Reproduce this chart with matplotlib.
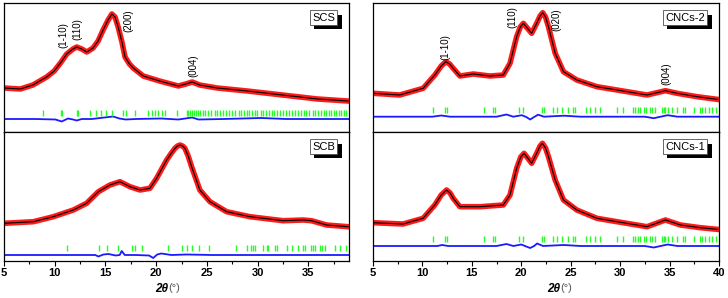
import numpy as np
import matplotlib.pyplot as plt
import matplotlib.patheffects as pe
from matplotlib.ticker import MultipleLocator

plt.rcParams['font.family'] = ['Liberation Sans', 'DejaVu Sans']

# --- SCS (upper left, its own 2theta scale) ---
scs_x = [7.5, 8.8, 9.8, 10.9, 11.5, 12.0, 12.5, 13.0, 13.3, 13.7, 14.1, 14.6, 15.0, 15.4,
         15.8, 16.1, 16.35, 16.6, 16.9, 17.15, 17.5, 17.8, 18.6, 19.9, 21.4, 22.0, 22.5,
         23.1, 24.5, 26.9, 29.7, 32.5, 34.9]
scs_y = [44, 43, 47, 55, 61, 69, 78, 83, 85, 83, 80, 84, 91, 102,
         112, 118, 115, 105, 90, 75, 68, 64, 56, 51, 46, 48, 50,
         47, 44, 41, 37, 33, 31]
scs_dx = [7.5, 10.0, 11.6, 12.1, 12.6, 13.0, 13.3, 13.7, 14.5, 15.5, 16.2, 16.7, 17.2,
          18.0, 20.0, 21.4, 22.5, 23.0, 25.0, 28.0, 30.0, 35.0]
scs_dy = [13, 13, 12.5, 10.5, 13.5, 12.5, 11.5, 13, 13, 14.5, 15.5, 13.5, 12.5,
          13, 13.5, 12.5, 14.5, 12.5, 13, 14, 13, 13]
scs_refl = [10.58, 12.02, 12.12, 13.29, 13.42, 14.35, 14.81, 15.21, 15.63, 16.13, 16.96,
            17.22, 17.94, 19.0, 19.3, 19.55, 19.8, 20.1, 20.35, 21.26,
            22.06, 22.2, 22.35, 22.5, 22.62, 22.8, 22.95, 23.1, 23.4, 23.55, 23.8, 24.0,
            24.3, 24.5, 24.75, 24.95, 25.2, 25.4, 25.7, 25.95, 26.2, 26.4, 26.6, 26.85,
            27.05, 27.3, 27.5, 27.7, 27.95, 28.15, 28.4, 28.6, 28.85, 29.05, 29.3, 29.5,
            29.75, 29.95, 30.2, 30.45, 30.7, 30.95, 31.15, 31.4, 31.6, 31.85, 32.1, 32.3,
            32.55, 32.75, 33.0, 33.2, 33.4, 33.6, 33.8, 34.0, 34.2, 34.4, 34.6, 34.8]
scs_hkl = [("(1-10)", 12.2, 84), ("(110)", 13.32, 92), ("(200)", 17.38, 100), ("(004)", 22.57, 55)]

# --- SCB (lower left) ---
scb_x = [5.0, 7.9, 9.86, 11.83, 13.14, 14.3, 15.44, 16.43, 17.41, 18.4, 19.38, 20.04,
         21.03, 21.5, 21.85, 22.1, 22.34, 22.6, 22.83, 23.15, 23.49, 24.3, 25.3, 26.94,
         29.24, 32.5, 34.5, 35.3, 36.8, 38.9]
scb_y = [37.7, 39.3, 44.3, 51, 57.7, 69.3, 76, 79.3, 74.3, 71, 72.7, 82.7,
         101, 108, 112.7, 115, 116, 115, 112.7, 105, 94.3, 71, 59.3, 49.3,
         44.3, 40.3, 41, 40.3, 36, 34.3]
scb_dx = [5.0, 12.0, 14.0, 14.3, 14.8, 15.3, 16.0, 16.4, 16.6, 16.9, 18.0, 19.3, 19.7,
          20.1, 20.5, 21.5, 23.0, 25.5, 30.0, 39.0]
scb_dy = [6, 6, 6, 4.5, 6.5, 7, 5.5, 6, 10, 6, 6, 5.5, 3,
          6.5, 7.5, 6, 6.5, 6, 6, 6]
scb_refl = [11.17, 14.36, 15.11, 16.26, 17.64, 17.9, 18.56, 21.19, 22.5, 23.0, 23.49,
            24.24, 25.23, 27.86, 28.91, 29.3, 29.57, 29.73, 30.49, 30.88, 31.04, 31.7,
            31.86, 32.85, 33.34, 34.0, 34.49, 34.66, 35.21, 35.47, 35.64, 36.13, 36.3,
            36.62, 37.6, 38.1, 38.69]

# --- CNCs-2 (upper right) ---
cnc2_x = [5.0, 7.7, 10.07, 11.26, 11.9, 12.37, 12.75, 13.11, 13.79, 15.14, 16.83, 18.18,
          18.86, 19.53, 19.9, 20.21, 20.6, 21.05, 21.56, 21.9, 22.17, 22.45, 22.75, 23.43,
          24.27, 25.62, 27.65, 29.68, 32.72, 34.58, 35.76, 37.79, 39.8]
cnc2_y = [38.7, 37, 43.7, 57, 66, 70.3, 68, 63.7, 56, 58, 56, 57,
          68.7, 95.3, 105, 108.7, 104, 98.7, 108.7, 116, 119.3, 115, 105.3, 78.7,
          60.3, 52, 45.3, 42, 37, 41.3, 38.7, 35.3, 32.7]
cnc2_dx = [5.0, 11.0, 11.9, 12.8, 17.5, 18.5, 19.2, 20.05, 20.5, 20.9, 21.3, 21.7, 22.3,
           24.3, 26.0, 32.5, 33.4, 34.1, 34.8, 35.8, 40.0]
cnc2_dy = [15.3, 15.3, 16.5, 15.3, 15.3, 17.5, 15.3, 16.8, 15, 12.5, 15, 17.3, 15.3,
           16.3, 15.3, 15.3, 13.8, 15.3, 16.8, 15.3, 15.3]
cnc_refl = [11.02, 12.27, 12.44, 16.22, 17.17, 17.34, 19.81, 20.21, 22.14, 22.3, 23.18,
            23.59, 24.1, 24.68, 25.2, 25.44, 26.56, 26.96, 27.47, 27.98, 29.73, 30.27,
            31.28, 31.52, 31.76, 32.03, 32.37, 32.64, 32.99, 33.21, 33.56, 34.23, 34.4,
            34.57, 34.82, 35.24, 35.75, 36.36, 36.6, 37.51, 38.12, 38.3, 38.63, 38.97,
            39.3, 39.65]
cnc2_hkl = [("(1-10)", 12.3, 72), ("(110)", 19.1, 104), ("(020)", 23.56, 101), ("(004)", 34.7, 47)]

# --- CNCs-1 (lower right) ---
cnc1_x = [5.0, 8.04, 10.07, 11.25, 11.9, 12.44, 12.8, 13.11, 13.79, 15.82, 18.18, 18.86,
          19.54, 19.95, 20.28, 20.65, 21.05, 21.56, 21.9, 22.14, 22.45, 22.75, 23.43, 24.27,
          25.62, 27.65, 29.68, 32.72, 34.58, 36.1, 38.12, 39.8]
cnc1_y = [38.3, 37, 42.7, 56, 66, 71, 68, 62.7, 54.3, 54.3, 56, 66,
          93, 104, 107.7, 103, 97.7, 107.7, 115, 117.7, 113, 104.3, 81, 61,
          51, 42.7, 39.3, 34.3, 41, 36, 33.3, 31.7]
cnc1_dx = [5.0, 11.5, 12.0, 12.6, 17.5, 18.5, 19.2, 20.0, 20.5, 20.9, 21.3, 21.6, 22.2,
           24.3, 26.0, 32.5, 33.4, 34.1, 34.8, 35.8, 40.0]
cnc1_dy = [15, 15, 16, 15, 15, 17, 15, 16.5, 14.5, 13, 15, 17.5, 15,
           16, 15, 15, 13.5, 15, 16.5, 15, 15]

panels = [
    dict(rect=[4 / 728, 166 / 298, 345 / 728, 129 / 298], xlim=(7.5, 35), x=scs_x, y=scs_y,
         dx=scs_dx, dy=scs_dy, refl=scs_refl, rh=(16.5, 22), hkl=scs_hkl, name="SCS",
         bottom=False),
    dict(rect=[4 / 728, 37 / 298, 345 / 728, 129 / 298], xlim=(5, 39), x=scb_x, y=scb_y,
         dx=scb_dx, dy=scb_dy, refl=scb_refl, rh=(10.5, 16), hkl=[], name="SCB",
         bottom=True),
    dict(rect=[373 / 728, 166 / 298, 346 / 728, 129 / 298], xlim=(5, 40), x=cnc2_x, y=cnc2_y,
         dx=cnc2_dx, dy=cnc2_dy, refl=cnc_refl, rh=(19, 25), hkl=cnc2_hkl, name="CNCs-2",
         bottom=False),
    dict(rect=[373 / 728, 37 / 298, 346 / 728, 129 / 298], xlim=(5, 40), x=cnc1_x, y=cnc1_y,
         dx=cnc1_dx, dy=cnc1_dy, refl=cnc_refl, rh=(19.5, 25), hkl=[], name="CNCs-1",
         bottom=True),
]

fig = plt.figure(figsize=(7.28, 2.98), dpi=100)

for i, p in enumerate(panels):
    ax = fig.add_axes(p["rect"])
    # observed (red band), calculated (black), difference (blue), reflections (green)
    ax.plot(p["x"], p["y"], color="#ff1a1a", lw=4.0, solid_joinstyle="round", zorder=2)
    ax.plot(p["x"], p["y"], color="black", lw=0.8, zorder=3)
    ax.plot(p["dx"], p["dy"], color="#1a1aff", lw=1.3, zorder=2)
    ax.vlines(p["refl"], p["rh"][0], p["rh"][1], color="#22ff22", lw=1.0, zorder=2)
    for lab, lx, ly in p["hkl"]:
        ax.text(lx, ly, lab, rotation=90, ha="center", va="bottom", fontsize=7)

    t = ax.text(0.96, 0.925, p["name"], transform=ax.transAxes, ha="right", va="top",
                fontsize=8,
                bbox=dict(boxstyle="square,pad=0.2", fc="white", ec="0.3", lw=0.6))
    t.get_bbox_patch().set_path_effects([
        pe.withSimplePatchShadow(offset=(3, -3), shadow_rgbFace="black", alpha=1)])

    ax.set_xlim(*p["xlim"])
    ax.set_ylim(0, 129)
    ax.set_yticks([])
    ax.xaxis.set_major_locator(MultipleLocator(5))
    ax.xaxis.set_minor_locator(MultipleLocator(2.5))
    ax.tick_params(axis="x", which="major", direction="out", length=3.5, width=0.8)
    ax.tick_params(axis="x", which="minor", direction="out", length=2, width=0.8)
    for s in ax.spines.values():
        s.set_linewidth(0.9)
    if p["bottom"]:
        ax.tick_params(axis="x", labelsize=8, pad=1.5)
        for lbl in ax.get_xticklabels():
            lbl.set_fontweight("bold")
        cx = 0.475 if i == 1 else 0.54
        ax.text(cx, -0.17, "2θ", transform=ax.transAxes, ha="right", va="top",
                fontsize=8.5, fontweight="bold", fontstyle="italic")
        ax.text(cx, -0.17, "(°)", transform=ax.transAxes, ha="left", va="top",
                fontsize=8, color="0.35")
    else:
        ax.tick_params(axis="x", labelbottom=False)

fig.savefig("out.png", dpi=100)
